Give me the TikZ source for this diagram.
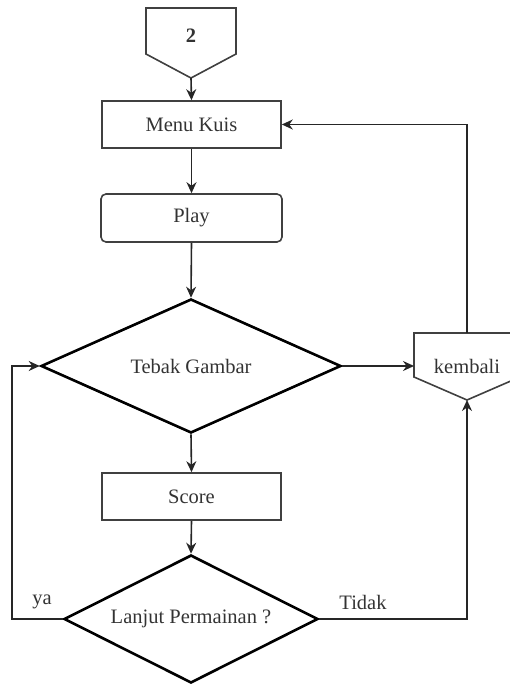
\documentclass[tikz,border=0pt]{standalone}
\usepackage{fontspec}
\setmainfont{Liberation Serif}
\usetikzlibrary{shapes.geometric,arrows.meta}
\begin{document}
\begin{tikzpicture}[x=1pt,y=-1pt,
  font=\fontsize{20.5}{24}\selectfont,
  txt/.style={text=black!80},
  procbox/.style={draw=black!75,line width=1.6pt,minimum width=179pt,minimum height=47pt,inner sep=0pt,txt},
  decide/.style={draw=black,line width=2.6pt,shape=diamond,inner sep=0pt,txt},
  offpage/.style={draw=black!75,line width=1.6pt,line join=miter},
  flow/.style={draw=black!85,line width=1.6pt,-{Stealth[length=11pt,width=10pt]}}
]
\useasboundingbox (0,0) rectangle (509,684);

% off-page connector "2"
\draw[offpage] (146,8) -- (236,8) -- (236,54) -- (191,78) -- (146,54) -- cycle;
\node[txt,font=\fontsize{20.5}{24}\selectfont\bfseries] (start) at (191,36) {2};
\coordinate (starttip) at (191,78);

% process steps
\node[procbox] (menu) at (191.5,124.5) {Menu Kuis};
\node[procbox,rounded corners=5pt,minimum width=181pt,minimum height=48pt] (play) at (191.5,218) {Play};
\node[decide,aspect=2.24,minimum width=300pt,minimum height=134pt] (tebak) at (191,366) {Tebak Gambar};
\node[procbox] (score) at (191.5,496.5) {Score};
\node[decide,aspect=1.98,minimum width=254pt,minimum height=128pt] (lanjut) at (191,619) {Lanjut Permainan ?};

% off-page connector "kembali"
\draw[offpage] (520,333) -- (414,333) -- (414,377) -- (467,400) -- (520,377);
\node[txt] (kembali) at (467,366) {kembali};
\coordinate (kmbtop) at (467,333);
\coordinate (kmbtip) at (467,400);
\coordinate (kmbwest) at (414,366);

% connectors
\draw[flow] (starttip) -- (menu.north);
\draw[flow] (menu.south) -- (play.north);
\draw[flow] (play.south) -- (tebak.north);
\draw[flow] (tebak.east) -- (kmbwest);
\draw[flow] (kmbtop) |- (menu.east);
\draw[flow] (tebak.south) -- (score.north);
\draw[flow] (score.south) -- (lanjut.north);

\coordinate (yabend) at (12,619);
\draw[flow] (lanjut.west) -- (yabend) |- (tebak.west);
\draw[flow] (lanjut.east) -| (kmbtip);

% branch labels
\node[txt] (ya) at (42,602) {ya};
\node[txt] (tidak) at (363,602) {Tidak};
\end{tikzpicture}
\end{document}
